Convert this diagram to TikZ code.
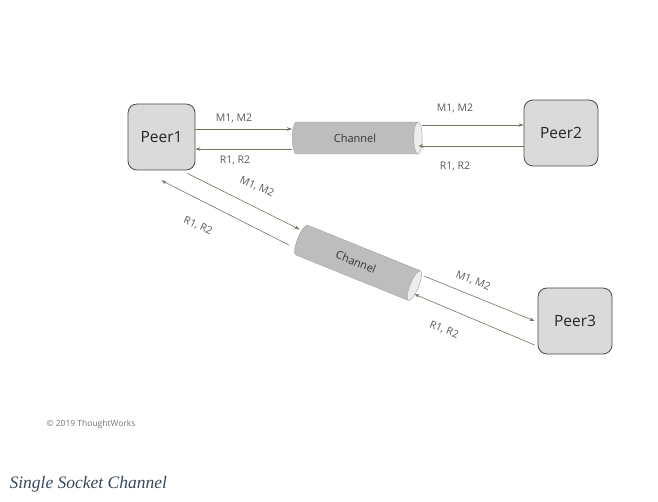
\documentclass[tikz,border=0pt]{standalone}
\usepackage{fontspec}
\setmainfont{Open Sans}
\newfontfamily\capfont{Liberation Serif}
\usetikzlibrary{arrows.meta,shapes.geometric,calc}

\definecolor{boxfill}{HTML}{DADADA}
\definecolor{boxline}{HTML}{4A4A4A}
\definecolor{pipefill}{HTML}{BDBDBD}
\definecolor{pipeend}{HTML}{EDEDED}
\definecolor{flowline}{HTML}{7A705E}
\definecolor{labeltext}{HTML}{5A5A5A}
\definecolor{captext}{HTML}{34495E}

\tikzset{
	peer/.style={draw=boxline, fill=boxfill, rounded corners=9pt, line width=0.8pt,
		minimum width=67, minimum height=66, font=\fontsize{15.5}{18}\selectfont, text=black!85},
	pipe/.style={cylinder, shape aspect=1, draw=pipefill!85!black, line width=0.4pt,
		cylinder uses custom fill, cylinder body fill=pipefill, cylinder end fill=pipeend,
		minimum height=130, minimum width=32, inner sep=0pt,
		font=\fontsize{11}{13}\selectfont, text=black!80},
	flow/.style={draw=flowline, line width=0.6pt, -{Stealth[length=5pt,width=3.5pt]}},
	msg/.style={font=\fontsize{10.5}{12}\selectfont, text=labeltext},
}

\begin{document}
\begin{tikzpicture}[x=1pt, y=-1pt]
	\useasboundingbox (0,0) rectangle (658,502);
	
	% peers
	\node[peer] (p1) at (161.5,137) {Peer1};
	\node[peer, minimum width=74] (p2) at (561,133) {Peer2};
	\node[peer, minimum width=74] (p3) at (575,321) {Peer3};
	
	% channels
	\node[pipe] (ch1) at (355,138) {Channel};
	\node[pipe, rotate=-22] (ch2) at (356,262) {Channel};
	
	% top row
	\draw[flow] ([shift={(0,-8)}]p1.east) -- ([shift={(0,-8)}]p1.east -| ch1.west);
	\draw[flow] ([shift={(0,12)}]p1.east -| ch1.west) -- ([shift={(0,12)}]p1.east);
	\draw[flow] ([shift={(0,-13)}]ch1.east) -- ([shift={(0,-13)}]ch1.east -| p2.west);
	\draw[flow] ([shift={(0,8)}]ch1.east -| p2.west) -- ([shift={(-4,8)}]ch1.east);
	
	% diagonal
	\coordinate (d1) at ([shift={(-8,3)}]p1.south east);
	\coordinate (d2) at ([shift={(-34,10)}]p1.south east);
	\draw[flow] (d1) -- ([shift={(2,-9)}]ch2.west);
	\draw[flow] ([shift={(-8,7)}]ch2.west) -- (d2);
	\draw[flow] ([shift={(6,-11)}]ch2.east) -- ([shift={(-3,0)}]p3.west);
	\draw[flow] ([shift={(-3,24)}]p3.west) -- ([shift={(-4,7)}]ch2.east);
	
	% labels
	\node[msg] at (234,118) {M1, M2};
	\node[msg] at (235,160) {R1, R2};
	\node[msg] at (455,108) {M1, M2};
	\node[msg] at (455,166) {R1, R2};
	\node[msg, rotate=-25] at (257,187) {M1, M2};
	\node[msg, rotate=-25] at (198,226) {R1, R2};
	\node[msg, rotate=-22] at (473,281) {M1, M2};
	\node[msg, rotate=-22] at (444,330) {R1, R2};
	
	\node[anchor=west, font=\fontsize{8.5}{10}\selectfont, text=black!55] (copy) at (43,424) {© 2019 ThoughtWorks};
	\node[anchor=west, font=\capfont\itshape\fontsize{17.5}{20}\selectfont, text=captext] (cap) at (6,484) {Single Socket Channel};
\end{tikzpicture}
\end{document}
